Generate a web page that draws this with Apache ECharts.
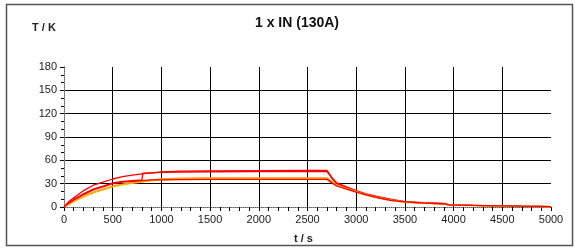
<!DOCTYPE html>
<html>
<head>
<meta charset="utf-8">
<script src="https://cdn.jsdelivr.net/npm/echarts@6/dist/echarts.min.js"></script>
<style>
html,body{margin:0;padding:0;background:#fff;}
#c{width:575px;height:249px;}
</style>
</head>
<body>
<div id="c"></div>
<script>
const title = '1 x IN (130A)';
const yName = 'T / K';
const xName = 't / s';
const times = [0, 50, 100, 200, 300, 400, 500, 600, 700, 800, 810, 900, 1000, 1200, 1500, 2000, 2500, 2700, 2750, 2800, 2900, 3000, 3100, 3200, 3350, 3500, 3700, 3900, 3960, 4200, 4500, 4700, 5000];
const s1 = [0, 7, 12, 21, 28, 32, 36, 39, 41, 42.5, 43, 44, 45, 46, 46.5, 46.8, 47, 47, 38, 31, 26, 21, 17, 14, 10, 7, 5.5, 4.5, 2.5, 2, 1.5, 1, 0.5];
const s2 = [0, 5, 10, 17, 23, 27, 31, 33, 34, 35, 43.5, 44, 44.5, 45, 45.3, 45.5, 45.5, 45.5, 37, 30, 25, 20.5, 16.5, 13.5, 9.5, 6.5, 5, 4, 2.5, 2, 1.5, 1, 0.5];
const s3 = [0, 4, 8, 14, 19, 23, 27, 29.5, 31.5, 33, 33.5, 35, 36, 37, 37.5, 37.5, 37.5, 37.5, 33, 28, 24, 20, 16, 13, 9, 6.5, 5, 4, 2.5, 2, 1.3, 1, 0.4];
const s4 = [0, 3, 7, 13, 18, 22, 26, 28.5, 30.5, 32, 32.5, 34, 35, 36, 36.5, 36.5, 36.5, 36.5, 32, 27.5, 23.5, 19.5, 15.5, 12.5, 8.5, 6, 4.8, 3.8, 2.3, 1.8, 1.2, 0.8, 0.3];
const s5 = [0, 5, 9, 16, 22, 26, 30, 32, 33, 34, 34.5, 35, 35, 35.3, 35.5, 35.5, 35.5, 35.5, 31, 27, 23, 19, 15.5, 12.5, 8.5, 6.5, 5, 4.2, 2.6, 2.1, 1.5, 1.0, 0.5];
const seriesList = [
  {name: 'T1', data: s1, color: '#ff0000'},
  {name: 'T2', data: s2, color: '#ff0000'},
  {name: 'T3', data: s3, color: '#ff9900'},
  {name: 'T4', data: s4, color: '#ffb000'},
  {name: 'T5', data: s5, color: '#ff0000'}
];

const chart = echarts.init(document.getElementById('c'), null, {renderer: 'canvas'});
const font = 'Liberation Sans, Arial, sans-serif';
const blackLines = n => { const a = []; for (let i = 0; i < n; i++) a.push('#000'); a.push('rgba(0,0,0,0)'); return a; };

chart.setOption({
  animation: false,
  backgroundColor: '#fff',
  title: {
    text: title, left: 292, top: 11, textAlign: 'center',
    textStyle: {fontFamily: font, fontSize: 14, fontWeight: 'bold', color: '#111'}
  },
  graphic: [
    {type: 'rect', shape: {x: 6.5, y: 4.5, width: 566, height: 241}, style: {fill: 'none', stroke: '#555', lineWidth: 1.5}, z: 100},
    {type: 'text', left: 32, top: 22, style: {text: yName, font: 'bold 11px ' + font, fill: '#222'}},
    {type: 'text', left: 294, top: 233, style: {text: xName, font: 'bold 11px ' + font, fill: '#222'}}
  ],
  grid: {left: 64, right: 24, top: 67, bottom: 42},
  xAxis: [{
    type: 'value', min: 0, max: 5000, interval: 500,
    axisLine: {show: true, onZero: false, lineStyle: {color: '#000', width: 1}},
    axisTick: {show: true, length: 4, lineStyle: {color: '#000'}},
    minorTick: {show: true, splitNumber: 5, length: 4, lineStyle: {color: '#000'}},
    splitLine: {show: true, lineStyle: {color: blackLines(10), width: 1}},
    axisLabel: {fontFamily: font, fontSize: 11, color: '#222', margin: 7, formatter: v => String(v)}
  }, {
    type: 'value', position: 'top', min: 0, max: 5000,
    axisLine: {show: true, lineStyle: {color: '#999', type: 'dotted', width: 1}},
    axisTick: {show: false}, axisLabel: {show: false}, splitLine: {show: false}
  }],
  yAxis: [{
    type: 'value', min: 0, max: 180, interval: 30,
    axisLine: {show: true, onZero: false, lineStyle: {color: '#000', width: 1}},
    axisTick: {show: true, length: 4, lineStyle: {color: '#000'}},
    minorTick: {show: true, splitNumber: 3, length: 3, lineStyle: {color: '#000'}},
    splitLine: {show: true, lineStyle: {color: blackLines(6), width: 1}},
    axisLabel: {fontFamily: font, fontSize: 11, color: '#222', margin: 7, formatter: v => String(v)}
  }, {
    type: 'value', position: 'right', min: 0, max: 180,
    axisLine: {show: true, lineStyle: {color: '#999', type: 'dotted', width: 1}},
    axisTick: {show: false}, axisLabel: {show: false}, splitLine: {show: false}
  }],
  series: seriesList.map(s => ({
    name: s.name, type: 'line', xAxisIndex: 0, yAxisIndex: 0,
    data: times.map((t, i) => [t, s.data[i]]),
    showSymbol: false, symbol: 'none',
    lineStyle: {color: s.color, width: 1.3},
    itemStyle: {color: s.color},
    z: 5
  }))
});
</script>
</body>
</html>
